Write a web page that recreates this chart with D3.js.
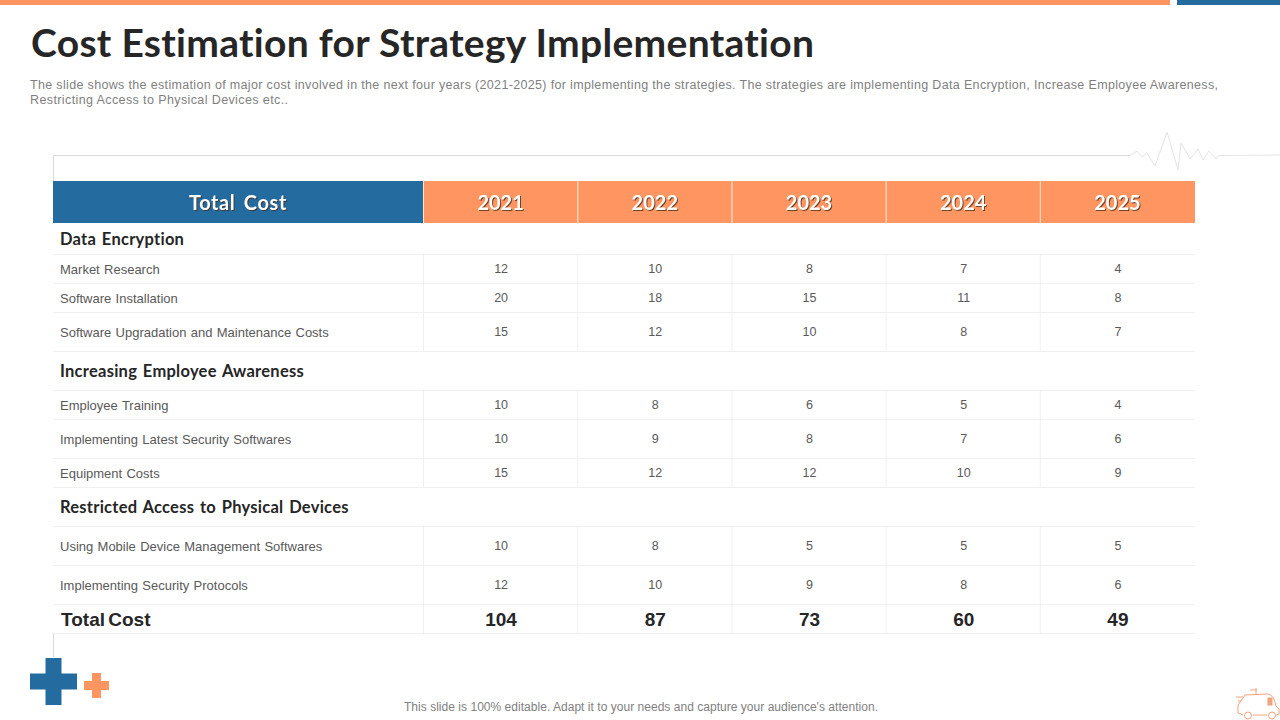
<!DOCTYPE html>
<html>
<head>
<meta charset="utf-8">
<script src="https://cdn.jsdelivr.net/npm/d3@7"></script>
<style>
  html, body { margin: 0; padding: 0; background: #fff; }
  svg { display: block; }
  text { font-family: "Liberation Sans", Arial, sans-serif; }
  .geo { font-family: Lato, "Open Sans", sans-serif; font-weight: 700; font-variant-ligatures: none; }
</style>
</head>
<body>
<div id="chart"></div>
<script>
var title = "Cost Estimation for Strategy Implementation";
var intro = [
  "The slide shows the estimation of major cost involved in the next four years (2021-2025) for implementing the strategies. The strategies are implementing Data Encryption, Increase Employee Awareness,",
  "Restricting Access to Physical Devices etc.."
];
var footer = "This slide is 100% editable. Adapt it to your needs and capture your audience's attention.";

var years = ["2021", "2022", "2023", "2024", "2025"];
var headLabel = "Total Cost";

var rowLabels = [
  "Data Encryption",
  "Market Research",
  "Software Installation",
  "Software Upgradation and Maintenance Costs",
  "Increasing Employee Awareness",
  "Employee Training",
  "Implementing Latest Security Softwares",
  "Equipment Costs",
  "Restricted Access to Physical Devices",
  "Using Mobile Device Management Softwares",
  "Implementing Security Protocols",
  "Total Cost"
];
var rowKinds = ["group", "item", "item", "item", "group", "item", "item", "item", "group", "item", "item", "total"];
var rowValues = [
  [],
  [12, 10, 8, 7, 4],
  [20, 18, 15, 11, 8],
  [15, 12, 10, 8, 7],
  [],
  [10, 8, 6, 5, 4],
  [10, 9, 8, 7, 6],
  [15, 12, 12, 10, 9],
  [],
  [10, 8, 5, 5, 5],
  [12, 10, 9, 8, 6],
  [104, 87, 73, 60, 49]
];

var width = 1280, height = 720;
var blue = "#246b9f", orange = "#ff9661";

// row heights follow the slide, they are not even
var rowHeights = [31, 29, 29, 39, 39, 29, 39, 29, 39, 39, 39, 29];
var tableTop = 223;
var rowTops = [];
rowHeights.reduce(function(sum, h) { rowTops.push(sum); return sum + h; }, tableTop);

var x = d3.scaleBand().domain(years).range([424, 1195]);
var y = d3.scaleOrdinal().domain(d3.range(rowLabels.length)).range(rowTops);

var svg = d3.select("#chart").append("svg")
    .attr("width", width)
    .attr("height", height);

// top stripes
svg.append("rect").attr("x", 0).attr("y", 0).attr("width", 1170).attr("height", 5).attr("fill", orange);
svg.append("rect").attr("x", 1177).attr("y", 0).attr("width", 103).attr("height", 5).attr("fill", blue);

svg.append("text")
    .attr("class", "geo")
    .attr("x", 31).attr("y", 57)
    .attr("textLength", 783)
    .attr("font-size", 39)
    .attr("fill", "#262626")
    .text(title);

svg.selectAll(".intro")
    .data(intro)
  .enter().append("text")
    .attr("class", "intro")
    .attr("x", 30)
    .attr("y", function(d, i) { return 89 + i * 15; })
    .attr("textLength", function(d, i) { return i == 0 ? 1188 : 258; })
    .attr("font-size", 12.5)
    .attr("fill", "#7f7f7f")
    .text(function(d) { return d; });

// frame line with the pulse in it
var frame = d3.line();
svg.append("path")
    .attr("d", frame([[53.5, 181], [53.5, 155.5], [1130, 155.5]]))
    .attr("fill", "none").attr("stroke", "#d9d9d9");
svg.append("path")
    .attr("d", frame([[1130, 155.5], [1137, 151], [1142, 157], [1147, 153], [1155, 166], [1167, 132], [1178, 170],
                      [1181, 143], [1190, 159], [1198, 149], [1203, 160], [1209, 151], [1216, 159], [1219, 155.5], [1280, 155]]))
    .attr("fill", "none").attr("stroke", "#e4e4e4");
svg.append("path")
    .attr("d", frame([[53.5, 634], [53.5, 657]]))
    .attr("fill", "none").attr("stroke", "#d9d9d9");

// header
svg.append("rect")
    .attr("x", 53).attr("y", 181).attr("width", 371).attr("height", 42)
    .attr("fill", blue);
svg.selectAll(".head")
    .data(years)
  .enter().append("rect")
    .attr("class", "head")
    .attr("x", function(d) { return x(d); })
    .attr("y", 181)
    .attr("width", x.bandwidth())
    .attr("height", 42)
    .attr("fill", orange);
svg.selectAll(".headRule")
    .data(years)
  .enter().append("line")
    .attr("class", "headRule")
    .attr("x1", function(d) { return x(d) - 0.5; })
    .attr("x2", function(d) { return x(d) - 0.5; })
    .attr("y1", 181).attr("y2", 223)
    .attr("stroke", "#ffe3d3");

var headText = [headLabel].concat(years);
svg.selectAll(".headText")
    .data(headText)
  .enter().append("text")
    .attr("class", "headText geo")
    .attr("x", function(d, i) { return i == 0 ? 238 : x(d) + x.bandwidth() / 2 - 0.5; })
    .attr("y", 209.5)
    .attr("text-anchor", "middle")
    .attr("font-size", 20)
    .attr("letter-spacing", function(d, i) { return i == 0 ? 0.6 : 0; })
    .attr("word-spacing", function(d, i) { return i == 0 ? 3 : 0; })
    .attr("fill", "#fff")
    .style("filter", "drop-shadow(1px 1px 0.5px rgba(70,40,20,0.75))")
    .text(function(d) { return d; });

// row rules and column rules
var rows = rowLabels.map(function(d, i) {
  return { label: d, kind: rowKinds[i], values: rowValues[i], top: y(i), h: rowHeights[i] };
});

svg.selectAll(".rule")
    .data(rows)
  .enter().append("line")
    .attr("class", "rule")
    .attr("x1", 53).attr("x2", 1195)
    .attr("y1", function(d) { return d.top + d.h + 0.5; })
    .attr("y2", function(d) { return d.top + d.h + 0.5; })
    .attr("stroke", "#f0f0f0");

var itemRows = rows.filter(function(d) { return d.kind != "group"; });
svg.selectAll(".colRule")
    .data(d3.cross(itemRows, years))
  .enter().append("line")
    .attr("class", "colRule")
    .attr("x1", function(d) { return x(d[1]) - 0.5; })
    .attr("x2", function(d) { return x(d[1]) - 0.5; })
    .attr("y1", function(d) { return d[0].top; })
    .attr("y2", function(d) { return d[0].top + d[0].h; })
    .attr("stroke", "#f0f0f0");

// row labels
svg.selectAll(".rowLabel")
    .data(rows)
  .enter().append("text")
    .attr("class", function(d) { return "rowLabel" + (d.kind == "group" ? " geo" : ""); })
    .attr("x", function(d) { return d.kind == "total" ? 61 : 60; })
    .attr("y", function(d) { return d.top + d.h / 2 + (d.kind == "group" ? 1 : 0.5); })
    .attr("dy", "0.35em")
    .attr("font-size", function(d) { return d.kind == "group" ? 16.5 : d.kind == "total" ? 19 : 13; })
    .attr("font-weight", function(d) { return d.kind == "total" ? 700 : null; })
    .attr("letter-spacing", function(d) { return d.kind == "group" ? 0.25 : 0; })
    .attr("word-spacing", function(d) { return d.kind == "group" ? 1.5 : d.kind == "total" ? -2 : 0.7; })
    .attr("fill", function(d) { return d.kind == "item" ? "#595959" : "#262626"; })
    .text(function(d) { return d.label; });

// values
var g = svg.selectAll(".row")
    .data(itemRows)
  .enter().append("g")
    .attr("class", "row");

g.selectAll("text")
    .data(function(d) {
      return d.values.map(function(v, i) { return { v: v, year: years[i], row: d }; });
    })
  .enter().append("text")
    .attr("x", function(d) { return x(d.year) + x.bandwidth() / 2; })
    .attr("y", function(d) { return d.row.top + d.row.h / 2 + 0.5; })
    .attr("dy", "0.35em")
    .attr("text-anchor", "middle")
    .attr("font-size", function(d) { return d.row.kind == "total" ? 19 : 12.5; })
    .attr("font-weight", function(d) { return d.row.kind == "total" ? 700 : null; })
    .attr("fill", function(d) { return d.row.kind == "total" ? "#262626" : "#595959"; })
    .text(function(d) { return d.v; });

// plus signs, bottom left
function plus(cx, cy, arm, half, color) {
  svg.append("path")
      .attr("d", frame([[cx - half, cy - arm], [cx + half, cy - arm], [cx + half, cy - half], [cx + arm, cy - half],
                        [cx + arm, cy + half], [cx + half, cy + half], [cx + half, cy + arm], [cx - half, cy + arm],
                        [cx - half, cy + half], [cx - arm, cy + half], [cx - arm, cy - half], [cx - half, cy - half]]) + "Z")
      .attr("fill", color);
}
plus(53.5, 681.5, 23.5, 8, blue);
plus(96.5, 685.5, 12.5, 4.5, orange);

svg.append("text")
    .attr("x", 641).attr("y", 711)
    .attr("text-anchor", "middle")
    .attr("textLength", 474)
    .attr("font-size", 12)
    .attr("fill", "#7f7f7f")
    .text(footer);

// small van, bottom right
var van = svg.append("g")
    .attr("fill", "none")
    .attr("stroke", "#f2a27c")
    .attr("stroke-width", 1);
van.append("path").attr("d", "M1238,713 L1238,705 L1245,695 L1268,694 Q1274,695 1276,706 L1279,709 L1279,714 L1276,715 M1267,715 L1253,715 M1243,715 L1238,713");
van.append("circle").attr("cx", 1248).attr("cy", 715.5).attr("r", 3.5);
van.append("circle").attr("cx", 1272).attr("cy", 715.5).attr("r", 3.5);
van.append("path").attr("d", "M1236,697 L1243,697 M1238,701 L1241,701 M1250,690 L1257,690 M1256,688 L1256,694");
van.append("rect").attr("x", 1268).attr("y", 698).attr("width", 4).attr("height", 7).attr("fill", "#f2a27c");
</script>
</body>
</html>
